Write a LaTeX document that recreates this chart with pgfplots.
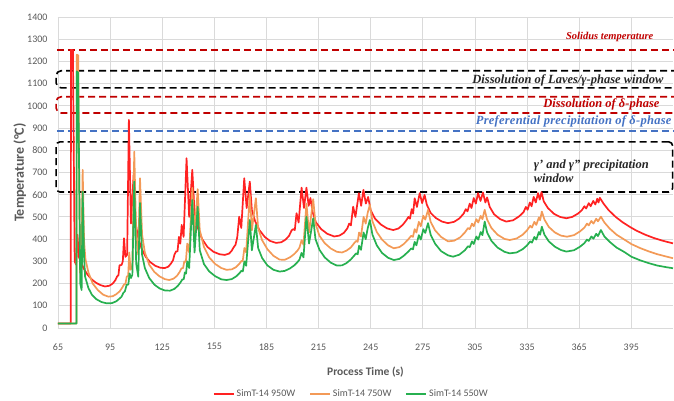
\documentclass[border=0pt]{standalone}
\usepackage{fontspec}
\setmainfont{Carlito}
\newfontfamily\annfont{Liberation Serif}
\newfontfamily\annwidefont{Liberation Serif}[LetterSpace=2]
\usepackage{pgfplots}
\pgfplotsset{compat=1.18}
\usetikzlibrary{calc}
\definecolor{simred}{HTML}{FF2222}
\definecolor{simorange}{HTML}{F39A57}
\definecolor{simgreen}{HTML}{27B050}
\definecolor{darkred}{HTML}{C00000}
\definecolor{markblue}{HTML}{4472C4}
\definecolor{gridgray}{HTML}{DADADA}
\definecolor{ticklabel}{HTML}{595959}

\begin{document}
\begin{tikzpicture}
\begin{axis}[
  name=ax, at={(0,0)}, anchor=south west,
  scale only axis, width=615pt, height=311pt,
  xmin=65, xmax=419, ymin=0, ymax=1400,
  xtick={65,95,...,395}, ytick={0,100,...,1400},
  grid=major, major grid style={draw=gridgray,line width=0.9pt},
  axis line style={draw=none}, major tick length=0pt,
  scaled ticks=false,
  /pgf/number format/1000 sep={},
  /pgf/number format/assume math mode=true,
  tick label style={font=\fontsize{10}{12}\selectfont,text=ticklabel},
  xticklabel style={yshift=-12pt}, yticklabel style={xshift=-7pt},
  xlabel={Process Time (s)},
  ylabel={Temperature (°C)},
  xlabel style={at={(axis description cs:0.5,-0.142)},anchor=center,
    font=\fontsize{11.5}{13}\selectfont\bfseries,text=ticklabel},
  ylabel style={at={(axis description cs:-0.062,0.5)},anchor=center,
    font=\fontsize{14}{16}\selectfont\bfseries,text=ticklabel},
  clip=false,
  legend columns=3,
  legend style={at={(0.477,-0.212)},anchor=center,draw=none,
    font=\fontsize{10}{12}\selectfont,text=ticklabel,
    /tikz/every even column/.append style={column sep=12pt}},
  legend image code/.code={\draw[#1] (0pt,0pt) -- (20pt,0pt);},
  every axis plot/.append style={line width=1.7pt,line join=round},
]
% reference lines and windows
\draw[darkred,line width=1.6pt,dash pattern=on 7pt off 4pt]
  (axis cs:64.3,1252) -- (axis cs:419.5,1252);
\draw[black,line width=1.6pt,dash pattern=on 7pt off 4pt,rounded corners=5pt]
  (axis cs:422,1158) -- (axis cs:63.9,1158) -- (axis cs:63.9,1081) -- (axis cs:422,1081);
\draw[darkred,line width=1.6pt,dash pattern=on 7pt off 4pt,rounded corners=5pt]
  (axis cs:422,1041) -- (axis cs:63.9,1041) -- (axis cs:63.9,968) -- (axis cs:422,968);
\draw[markblue,line width=1.6pt,dash pattern=on 7pt off 4pt]
  (axis cs:64.3,887) -- (axis cs:419.5,887);
\draw[black,line width=1.6pt,dash pattern=on 7pt off 4pt,rounded corners=4pt]
  (axis cs:418.8,838) -- (axis cs:63.9,838) -- (axis cs:63.9,612) -- (axis cs:418.8,612) -- cycle;

\node[anchor=east,inner sep=0pt,text=darkred,font=\annfont\fontsize{10.5}{12}\selectfont\bfseries\itshape]
  at (axis cs:407.8,1311) {Solidus temperature};
\node[anchor=east,inner sep=0pt,text=black!85,font=\annfont\fontsize{12.5}{14}\selectfont\bfseries\itshape]
  at (axis cs:413.6,1115) {Dissolution of Laves/γ-phase window};
\node[anchor=east,inner sep=0pt,text=darkred,font=\annfont\fontsize{12.5}{14}\selectfont\bfseries\itshape]
  at (axis cs:411.3,1006) {Dissolution of δ-phase};
\node[anchor=east,inner sep=0pt,text=markblue,font=\annwidefont\fontsize{12.5}{14}\selectfont\bfseries\itshape]
  at (axis cs:418.2,932) {Preferential precipitation of δ-phase};
\node[anchor=west,inner sep=0pt,align=left,text=black!85,font=\annfont\fontsize{12.5}{14}\selectfont\bfseries\itshape]
  at (axis cs:338.8,707) {γ’ and γ” precipitation\\window};

% SimT-14 950W
\addplot[simred] coordinates {
(65,20) (72.3,20) (72.5,1252) (73.6,1250) (74.6,300) (75.4,285) (76.2,420) (77,320)
(78.5,290) (80,265) (82,240) (84.5,218) (87,203) (89.5,193) (92,187) (94.5,190)
(96.5,200) (98,215) (99,232) (99.8,238) (100.4,282) (101.6,284) (102.3,300) (103,404)
(103.8,320) (104.8,330) (105.8,937) (107,470) (108.6,700) (109.6,480) (111,410) (113,360)
(115.5,320) (118,297) (121,280) (124,271) (126.5,270) (128.5,276) (130,290) (131.2,305)
(132,330) (133,345) (133.8,345) (134.6,410) (135.4,380) (136.2,464) (137.3,410) (139,764)
(140.5,500) (142.3,712) (143.6,520) (145.5,450) (148,400) (151,365) (154.5,343) (158,332)
(161,329) (163.5,335) (165,348) (166,362) (167.2,375) (168.2,410) (169.3,501) (170.5,450)
(172.2,674) (173.6,540) (175.4,659) (176.6,530) (178.5,480) (181,440) (184,410) (187,392)
(190.5,383) (193.5,386) (196,398) (198,415) (199.5,440) (200.5,445) (201.3,441) (202.3,517)
(203.5,475) (205.2,632) (206.6,540) (208,632) (209.3,550) (210.3,585) (211.6,520) (213.5,475)
(216.5,445) (220,424) (224,412) (227,416) (229.5,428) (231.5,448) (232.6,470) (233.6,462)
(234.9,546) (236.2,500) (238.2,607) (239.5,550) (240.8,622) (242.2,560) (243.5,590) (245,530)
(247.5,492) (251,465) (254.5,448) (258,441) (261,448) (263.5,465) (265.5,485) (266.7,500)
(267.6,492) (268.6,535) (269.4,515) (270.3,584) (271.6,545) (273.2,607) (274.6,562) (276,599)
(277.3,555) (279.5,518) (282.5,495) (286,479) (289.5,472) (293,478) (296,493) (298.5,515)
(299.7,535) (300.7,525) (302,560) (303,540) (304.3,585) (305.5,560) (306.8,607) (308.2,572)
(309.6,610) (311,565) (312,588) (313.5,545) (316,512) (319.5,490) (323,479) (327,485)
(330.5,503) (333,522) (334.3,545) (335.3,532) (336.6,565) (337.6,548) (338.8,590) (340,565)
(341.3,607) (342.3,578) (343.3,612) (344.6,570) (347,540) (350.5,514) (354,500) (357.6,494)
(361,500) (364.3,515) (366.5,530) (368,548) (369,538) (370.5,562) (371.6,548) (373.1,572)
(374.3,556) (375.4,582) (376.1,565) (376.9,586) (379,560) (382,530) (386,500) (390,476)
(394,456) (398,438) (403,420) (408,405) (413,393) (419,381)
};
\addlegendentry{SimT-14 950W}

% SimT-14 750W
\addplot[simorange] coordinates {
(65,20) (75.6,20) (75.8,1230) (76.6,1228) (77.7,248) (78.4,300) (79.2,712) (80,390)
(80.8,310) (82.5,250) (85,200) (88,170) (91,150) (94,141) (96.5,143) (98.5,152)
(100.5,165) (102,182) (103,196) (103.8,198) (104.6,232) (105.4,234) (106,340) (106.8,262)
(107.8,280) (108.9,794) (110,420) (111.2,330) (112.2,674) (113.4,420) (115,340) (117.5,285)
(120.5,252) (123.5,232) (126.5,220) (129,216) (131.5,222) (133.5,235) (135,252) (136,268)
(137,270) (137.7,300) (138.6,298) (139.4,380) (140.5,340) (142.3,630) (143.6,420) (145.4,625)
(146.6,440) (149,365) (152,318) (155.5,288) (159,270) (162,262) (165,264) (167.5,274)
(169.5,290) (170.6,302) (171.3,300) (172.3,360) (173.3,340) (175.4,600) (176.6,440) (178.9,584)
(180.2,450) (182.5,395) (185.5,355) (189,325) (192.5,308) (195.5,307) (198.5,318) (201,333)
(202.8,348) (204,362) (205.2,395) (206.3,375) (208,560) (209.5,430) (211.9,580) (213.2,470)
(215.5,415) (218.5,382) (222,358) (225.5,343) (228.5,340) (231,348) (233.5,362) (235.5,382)
(236.6,392) (237.5,388) (238.3,430) (239.4,412) (240.9,500) (242.1,470) (243.3,520) (244.5,554)
(246,480) (248.5,432) (251.5,398) (255,372) (258.3,359) (261.5,364) (264,378) (266.5,398)
(268.3,415) (269.3,410) (270.3,445) (271.3,430) (272.7,478) (273.8,458) (275.3,505) (276.4,488)
(278,532) (279.5,478) (282,440) (285.5,410) (289.5,390) (293,393) (296.5,408) (299.2,430)
(301,450) (302,445) (303.3,470) (304.3,458) (305.8,490) (306.9,475) (308.3,505) (309.3,490)
(310.6,532) (312,488) (314.5,450) (318,420) (322,401) (325,396) (329,403) (332.5,420)
(335,440) (336.8,460) (337.8,452) (339.2,478) (340.3,464) (341.8,498) (342.5,485) (343.5,524)
(345,488) (347.5,455) (351,430) (354.5,416) (358,411) (362,418) (365.5,435) (368,452)
(369.5,470) (370.5,462) (372,482) (373.2,470) (374.8,492) (375.8,480) (377.5,501) (379.5,475)
(382.5,448) (386.5,420) (391,398) (395,378) (400,360) (405,345) (410,332) (415,322)
(419,314)
};
\addlegendentry{SimT-14 750W}

% SimT-14 550W
\addplot[simgreen] coordinates {
(65,20) (75.6,20) (75.8,1155) (76.6,1150) (77.8,200) (78.6,171) (79.2,614) (80,320)
(80.6,231) (82.5,180) (84.5,150) (87,130) (90,117) (93,111) (96,112) (98.5,120)
(100.5,133) (101.6,141) (102.6,158) (103.5,165) (104.5,194) (105.5,196) (106.2,246) (107,225)
(107.8,240) (108.9,659) (110,290) (111.2,231) (112.2,563) (113.4,330) (115,270) (117.5,225)
(120.5,195) (123.5,178) (126.5,169) (129.5,168) (132,176) (134,190) (135.5,205) (136.5,218)
(137.4,220) (138,250) (138.7,245) (139.4,300) (140.5,270) (142.3,576) (143.6,340) (145.4,546)
(146.6,350) (149,288) (152,255) (155.5,233) (159,219) (162,216) (165,220) (167.5,232)
(169.5,247) (170.6,258) (171.4,255) (172.3,300) (173.3,280) (175.4,486) (176.6,350) (178.9,464)
(180.2,360) (182.5,315) (185.5,282) (189,262) (192.5,254) (195.5,257) (198.5,268) (201,282)
(202.8,296) (204,308) (205.2,338) (206.3,318) (208,501) (209.5,380) (211.9,494) (213.2,400)
(215.5,352) (218.5,318) (222,294) (225.5,281) (228.5,282) (231,292) (233.5,308) (235.5,326)
(236.6,336) (237.5,332) (238.3,370) (239.4,352) (240.9,430) (242.1,400) (243.3,450) (244.5,486)
(246,420) (248.5,372) (251.5,338) (255,316) (258.3,306) (261.5,311) (264,325) (266.5,343)
(268.3,358) (269.3,354) (270.3,388) (271.3,372) (272.7,418) (273.8,398) (275.3,445) (276.4,428)
(278,472) (279.5,420) (282,380) (285.5,346) (289.5,327) (292.4,321) (296,330) (299.2,350)
(301,368) (302,364) (303.3,390) (304.3,378) (305.8,412) (306.9,398) (308.3,432) (309.3,418)
(310.6,479) (312,430) (314.5,392) (318,362) (322,343) (325,336) (329,340) (332.5,355)
(335,372) (336.8,390) (337.8,384) (339.2,410) (340.3,398) (341.8,432) (342.5,420) (343.5,456)
(345,420) (347.5,390) (351,366) (354.5,351) (357.6,344) (362,350) (365.5,366) (368,382)
(369.5,398) (370.5,392) (372,412) (373.2,402) (374.8,424) (375.8,414) (377.5,441) (379.5,412)
(382.5,388) (386.5,362) (391,342) (395,321) (400,305) (405,292) (410,281) (415,274)
(419,269)
};
\addlegendentry{SimT-14 550W}
\end{axis}
\pgfresetboundingbox
\path[use as bounding box] ($(ax.south west)+(-58pt,-73pt)$) rectangle ($(ax.north east)+(1pt,17pt)$);
\end{tikzpicture}
\end{document}
